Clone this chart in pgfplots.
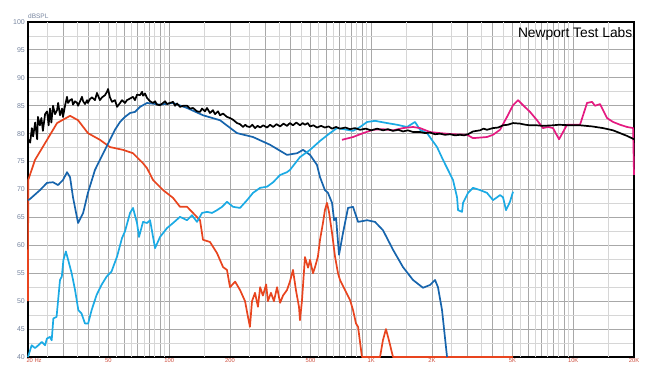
\documentclass[border=0pt]{standalone}
\usepackage{pgfplots}
\pgfplotsset{compat=1.18}
\usepackage{fontspec}
\setmainfont{Liberation Sans}

\definecolor{wooferred}{RGB}{232,68,30}
\definecolor{deepblue}{RGB}{22,100,172}
\definecolor{skyblue}{RGB}{27,170,228}
\definecolor{hotpink}{RGB}{228,26,128}
\definecolor{ylabelgray}{RGB}{118,132,158}
\definecolor{xlabelred}{RGB}{205,78,62}
\definecolor{gridmaj}{RGB}{168,168,168}
\definecolor{gridmin}{RGB}{214,214,214}

\begin{document}
\begin{tikzpicture}
\begin{axis}[
  at={(28pt,8pt)}, anchor=south west,
  width=606pt, height=335pt, scale only axis,
  xmode=log, xmin=20, xmax=20000, ymin=40, ymax=100,
  clip=false,
  axis line style={black, line width=1.8pt},
  major tick length=0pt, minor tick length=0pt,
  xtick={20,50,100,200,500,1000,2000,5000,10000,20000},
  xticklabels={\makebox[0pt][l]{\hspace{-1.5pt}20 Hz},50,100,200,500,1K,2K,5K,10K,20K},
  minor xtick={30,40,60,70,80,90,300,400,600,700,800,900,3000,4000,6000,7000,8000,9000},
  extra x ticks={25,35,45,55,65,75,85,95,150,250,350,450,550,650,750,850,950,
                 1500,2500,3500,4500,5500,6500,7500,8500,9500,15000},
  extra x tick labels={},
  extra x tick style={grid=major, major grid style={gridmin, line width=0.9pt}},
  ytick={40,45,...,100},
  yticklabels={40,45,50,55,60,65,70,75,80,85,90,95,100},
  minor ytick={42.5,47.5,...,97.5},
  grid=both,
  major grid style={gridmaj, line width=0.9pt},
  minor grid style={gridmaj, line width=0.9pt},
  y grid style={line width=0.9pt},
  minor y grid style={gridmin, line width=0.9pt},
  xticklabel style={font=\fontsize{5.8}{6}\selectfont, text=xlabelred, inner sep=0pt, anchor=north},
  yticklabel style={font=\fontsize{7}{8}\selectfont, text=ylabelgray, inner sep=0pt, anchor=east},
  xticklabel shift=1.6pt,
  yticklabel shift=3pt,
  every axis plot/.append style={line width=1.7pt, line join=round, no markers},
]

% woofer, near field
\addplot[wooferred] coordinates {
(20,50)(20.05,71.7)(21.66,75.3)(24.85,78.9)(27.85,81.9)(32.3,83.2)(35.4,82.4)
(39.6,80.1)(45.4,78.9)(50.9,77.6)(59.1,77.1)(66.2,76.5)(74.2,74.7)(77.7,73.8)
(83.2,71.7)(93.2,69.9)(104.5,68.5)(113.1,66.9)(122.6,66.9)(131.2,65.8)(142.1,64.5)
(147,61.0)(159.2,60.6)(172.5,58.6)(184.8,56.1)(193.2,55.6)(200,52.5)(212,53.5)
(224.2,52.0)(237.4,50.0)(246,47.0)(251,45.4)(257,50.0)(266,51.5)(275,49.0)
(282,52.5)(291,51.0)(302,53.0)(308,50.0)(319,51.5)(330,50.0)(342,52.5)(354,49.7)
(366,51.0)(383,52.0)(396,53.5)(410,55.6)(424,52.0)(439,49.0)(444,46.6)(454,50.0)
(470,57.9)(487,56.0)(498,57.4)(515,55.0)(527,56.1)(545,58.0)(558,61.0)(577,64.0)
(590,66.3)(604,67.6)(618,66.0)(640,62.2)(662,58.0)(685,55.0)(701,53.8)(742,52.0)
(786,50.2)(813,48.4)(841,46.0)(861,45.4)(900,40.0)(1106,40.0)(1143,43.0)
(1183,45.0)(1224,43.0)(1282,40.0)(5036,40.0)
};

% midrange
\addplot[deepblue] coordinates {
(20,68.1)(20.46,68.3)(22.94,69.9)(24.85,71.2)(26.6,71.3)(28.16,70.8)(29.8,71.7)
(31.2,73.1)(32.3,72.2)(33.4,68.6)(35.4,64.0)(37.5,65.8)(39.6,69.4)(42.9,73.5)
(45.4,75.3)(48.1,77.1)(50.9,78.9)(53.9,80.7)(57.1,82.1)(60.4,83.0)(64.0,83.7)
(67.7,83.9)(71.7,84.8)(77.7,85.5)(90.1,85.2)(104.5,85.5)(122.6,84.6)(147,83.3)
(178.6,82.4)(216.6,80.1)(260,79.4)(316,78.0)(383,76.2)(430,76.5)(460,77.1)
(498,76.2)(539,74.4)(558,72.2)(590,69.9)(611,69.4)(640,67.6)(655,64.5)(670,64.9)
(693,58.3)(725,62.2)(768,66.7)(813,66.9)(861,64.2)(955,64.5)(1044,64.2)
(1144,62.7)(1283,59.2)(1437,56.1)(1610,53.8)(1805,52.4)(1955,52.9)(2070,53.8)
(2141,52.5)(2242,48.4)(2374,40.0)
};

% port / upper driver
\addplot[skyblue] coordinates {
(20.0,40.0)(20.85,42.1)(21.66,41.6)(22.5,42.1)(23.4,42.7)(24.3,42.1)(24.8,43.3)
(25.7,43.6)(26.2,43.0)(26.7,46.9)(27.7,47.2)(28.8,53.8)(29.4,54.4)(29.95,57.4)
(30.8,58.9)(31.6,57.4)(32.9,55.0)(34.2,52.0)(35.5,48.4)(36.8,47.8)(38.3,46.0)
(39.7,46.0)(41.3,48.4)(43.7,51.1)(46.2,52.9)(49.0,54.4)(51.8,55.3)(55.2,58.0)
(58.4,61.3)(60.4,62.5)(64.0,65.8)(66.2,66.7)(69.3,64.0)(70.9,61.5)(74.2,64.2)
(77.7,64.0)(80.4,64.5)(85.1,59.5)(90.1,61.5)(97.6,63.1)(104.5,64.0)(113.1,65.1)
(122.6,64.5)(129.7,65.4)(137.3,64.2)(145.4,65.8)(153.9,66.0)(162.9,65.8)
(172.5,66.3)(182.7,66.9)(193.2,67.8)(207,66.9)(224.2,66.7)(243,68.1)(260,69.4)
(282,70.3)(305,70.5)(327,71.3)(354,72.6)(383,73.1)(396,73.5)(444,75.8)(498,77.1)
(558,78.7)(625,80.1)(677,81.0)(759,80.7)(813,80.5)(881,81.2)(955,82.1)(1044,82.3)
(1198,81.9)(1342,81.6)(1504,81.2)(1648,82.1)(1745,80.7)(1890,80.1)(2118,77.6)
(2268,75.3)(2401,73.5)(2541,71.7)(2661,68.6)(2691,66.3)(2817,66.0)(2849,67.6)
(3016,69.4)(3192,70.3)(3457,69.9)(3743,69.4)(4009,68.1)(4196,68.6)(4344,69.0)
(4494,68.6)(4648,66.3)(4865,67.8)(5036,69.6)
};

% tweeter
\addplot[hotpink] coordinates {
(717,78.9)(813,79.4)(912,80.1)(1023,80.7)(1144,80.8)(1283,80.6)(1437,81.0)
(1610,81.2)(1745,81.0)(1955,80.3)(2191,80.1)(2541,79.9)(2982,79.8)(3192,79.2)
(3743,79.4)(4009,79.8)(4344,80.7)(4701,83.0)(5036,85.1)(5332,86.0)(5644,85.1)
(6113,83.9)(6623,82.4)(7088,81.0)(7505,81.2)(7943,81.0)(8509,79.0)(9322,81.6)
(9982,81.6)(10810,81.6)(11709,85.5)(12392,85.7)(12823,85.0)(13576,85.3)
(14704,82.8)(15748,82.1)(17058,81.6)(18480,81.2)(19800,81.0)(20000,72.6)
};

% summed response
\addplot[black] coordinates {
(20,79.0)(20.5,78.4)(20.9,81.0)(21.2,79.5)(21.7,82.0)(22.2,79.0)(22.4,83.0)
(22.9,81.5)(23.3,82.8)(23.7,80.5)(24.3,83.5)(24.85,84.0)(25.3,81.5)(25.7,84.5)
(26.1,82.0)(26.6,85.0)(27.2,83.5)(27.85,84.2)(28.2,85.5)(28.8,83.3)(29.5,84.5)
(29.8,83.0)(30.5,85.0)(31.2,86.6)(31.55,85.5)(32.3,86.0)(33.0,86.2)(33.4,85.2)
(34.2,85.8)(35.0,85.5)(35.4,85.0)(36.2,85.8)(37.0,86.6)(37.5,85.8)(38.3,85.3)
(39.2,86.0)(39.6,85.5)(40.5,86.2)(41.5,86.5)(42.9,86.0)(43.9,87.3)(45.4,86.0)
(46.5,86.5)(48.1,86.9)(49.2,87.5)(49.8,88.0)(50.9,86.5)(52.1,85.7)(53.9,86.0)
(55.2,84.8)(57.1,85.5)(58.4,86.0)(60.4,85.5)(61.8,86.0)(64.0,86.3)(66.2,86.6)
(67.7,86.0)(69.3,87.0)(71.7,86.9)(73.4,87.5)(74.2,86.8)(75.9,87.2)(77.7,86.4)
(80.4,85.8)(83.2,85.5)(85.1,85.8)(87.0,85.2)(90.1,85.1)(93.2,85.5)(95.4,85.8)
(97.6,85.3)(101,85.5)(104.5,85.7)(106.9,85.0)(109.4,85.4)(113.1,84.8)(117.1,85.0)
(122.6,85.0)(126.8,84.5)(131.2,84.6)(137.3,84.0)(142.1,83.9)(145.4,84.5)
(150.4,84.0)(153.9,84.6)(159.2,83.7)(164.7,84.2)(168.6,83.5)(174.5,84.0)
(178.6,83.3)(184.8,83.6)(193.2,83.0)(200,82.8)(207,82.5)(216.6,81.9)(224.2,81.7)
(232,81.2)(238,81.6)(243,81.3)(251,81.2)(258,81.6)(266,81.0)(274,81.4)(282,81.1)
(292,81.5)(305,81.1)(316,81.6)(327,81.2)(340,81.7)(354,81.3)(368,81.8)(383,81.4)
(396,81.9)(410,81.5)(426,82.0)(444,81.5)(458,81.9)(470,81.6)(485,81.9)(498,81.3)
(518,81.5)(539,81.1)(565,81.4)(590,81.1)(615,81.3)(640,80.9)(670,81.2)(701,80.9)
(745,81.1)(786,80.8)(830,81.0)(881,80.7)(940,80.9)(1000,80.6)(1070,80.9)
(1144,80.6)(1210,80.8)(1283,80.5)(1360,80.7)(1437,80.4)(1520,80.6)(1610,80.3)
(1745,80.3)(1850,80.1)(1955,80.2)(2070,79.9)(2191,80.0)(2320,79.8)(2456,79.9)
(2600,79.7)(2753,79.8)(2880,79.7)(3016,79.9)(3192,80.4)(3457,80.6)(3600,80.9)
(3743,80.7)(4009,81.0)(4250,81.1)(4494,81.5)(4750,81.6)(5036,81.9)(5455,81.8)
(5800,81.6)(6113,81.5)(6600,81.5)(7088,81.4)(7943,81.5)(8509,81.6)(9647,81.5)
(10810,81.5)(12392,81.3)(14048,81.0)(15748,80.6)(17058,80.1)(18480,79.6)(20000,79.0)
};

\node[anchor=south west, inner sep=0pt, yshift=3.5pt,
      font=\fontsize{6.5}{7}\selectfont, text=ylabelgray]
  at (rel axis cs:0,1) {dBSPL};
\node[anchor=north east, inner sep=0pt, xshift=-1.5pt, yshift=-5pt,
      font=\fontsize{13.8}{15}\selectfont]
  at (rel axis cs:1,1) {Newport Test Labs};
\end{axis}
\pgfresetboundingbox
\useasboundingbox (0,0) rectangle (649pt,365pt);
\end{tikzpicture}
\end{document}
